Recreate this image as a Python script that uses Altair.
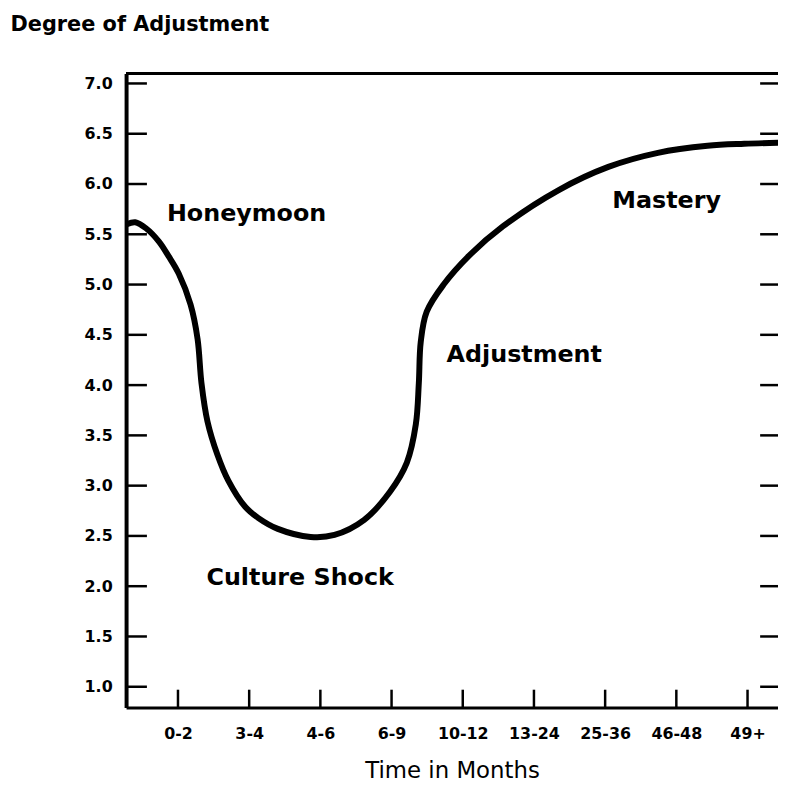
import altair as alt
import pandas as pd

# Categories on the time axis (positions 1..9)
time_labels = ["0-2", "3-4", "4-6", "6-9", "10-12", "13-24", "25-36", "46-48", "49+"]
time_pos = [1, 2, 3, 4, 5, 6, 7, 8, 9]

# Y ticks
y_ticks = [1.0, 1.5, 2.0, 2.5, 3.0, 3.5, 4.0, 4.5, 5.0, 5.5, 6.0, 6.5, 7.0]

# Curve (x in time-category units, y in degree of adjustment)
curve_x = [0.28, 0.40, 0.55, 0.73, 0.87, 1.01, 1.177, 1.275, 1.330, 1.414, 1.553, 1.707,
           1.944, 2.125, 2.403, 2.863, 3.198, 3.616, 3.978, 4.215, 4.341, 4.383, 4.410, 4.494,
           4.731, 5.093, 5.567, 6.348, 7.045, 7.741, 8.438, 8.954, 9.43]
curve_y = [5.60, 5.62, 5.56, 5.43, 5.28, 5.11, 4.80, 4.46, 4.02, 3.64, 3.31, 3.05,
           2.79, 2.68, 2.57, 2.49, 2.51, 2.66, 2.94, 3.23, 3.61, 4.02, 4.43, 4.73,
           5.00, 5.29, 5.58, 5.94, 6.17, 6.31, 6.38, 6.40, 6.41]

# Stage labels
stage_names = ["Honeymoon", "Culture Shock", "Adjustment", "Mastery"]
stage_x = [0.845, 1.40, 4.773, 7.10]
stage_y = [5.70, 2.08, 4.30, 5.83]

W, H = 657, 639
X_DOM = [0.271, 9.428]
Y_DOM = [0.793, 7.099]
FONT = "DejaVu Sans"

curve_df = pd.DataFrame({"x": curve_x, "y": curve_y})
ytick_df = pd.DataFrame({"y": y_ticks})
xtick_df = pd.DataFrame({"x": time_pos})
stage_df = pd.DataFrame({"name": stage_names, "x": stage_x, "y": stage_y})

label_array = "[" + ",".join("'" + t + "'" for t in time_labels) + "]"

x_scale = alt.Scale(domain=X_DOM, nice=False, zero=False)
y_scale = alt.Scale(domain=Y_DOM, nice=False, zero=False)

x_axis = alt.Axis(
    values=time_pos, labelExpr=label_array + "[datum.value-1]",
    ticks=False, grid=False, domainColor="black", domainWidth=3,
    labelFont=FONT, labelFontSize=16, labelFontWeight="bold", labelColor="black",
    labelPadding=18,
    title="Time in Months", titleFont=FONT, titleFontSize=23, titleFontWeight="normal",
    titleColor="black", titleBaseline="middle", titleY=63,
)
y_axis = alt.Axis(
    values=y_ticks, format=".1f", ticks=False, grid=False,
    domainColor="black", domainWidth=4,
    labelFont=FONT, labelFontSize=16, labelFontWeight="bold", labelColor="black",
    labelPadding=14,
    title="Degree of Adjustment", titleAngle=0, titleAlign="left", titleBaseline="middle",
    titleX=-117, titleY=-49, titleFont=FONT, titleFontSize=21, titleFontWeight="bold",
    titleColor="black",
)

def xe(field):
    return alt.X(field, type="quantitative", scale=x_scale, axis=x_axis)

def ye(field):
    return alt.Y(field, type="quantitative", scale=y_scale, axis=y_axis)

curve = alt.Chart(curve_df).mark_line(
    color="black", strokeWidth=6, interpolate="catmull-rom", strokeCap="round", clip=True
).encode(x=xe("x"), y=ye("y"))

left_ticks = alt.Chart(ytick_df).mark_rule(color="black", strokeWidth=2.5).encode(
    y=ye("y"), x=alt.value(0), x2=alt.value(21)
)
right_ticks = alt.Chart(ytick_df).mark_rule(color="black", strokeWidth=2.5).encode(
    y=ye("y"), x=alt.value(W - 18), x2=alt.value(W)
)
bottom_ticks = alt.Chart(xtick_df).mark_rule(color="black", strokeWidth=2.5).encode(
    x=xe("x"), y=alt.value(H - 18), y2=alt.value(H)
)
top_border = alt.Chart(xtick_df).mark_rule(color="black", strokeWidth=3).encode(
    y=alt.value(0), x=alt.value(0), x2=alt.value(W)
)

stages = alt.Chart(stage_df).mark_text(
    font=FONT, fontSize=24, fontWeight="bold", color="black", align="left", baseline="middle"
).encode(x=xe("x"), y=ye("y"), text="name:N")

chart = alt.layer(curve, left_ticks, right_ticks, bottom_ticks, top_border, stages).properties(
    width=W, height=H,
    autosize=alt.AutoSizeParams(type="none"),
    padding={"left": 119, "top": 63, "right": 0, "bottom": 72},
).configure_view(stroke=None).configure(background="white")

chart.save("out.html", embed_options={"renderer": "svg", "actions": False})
